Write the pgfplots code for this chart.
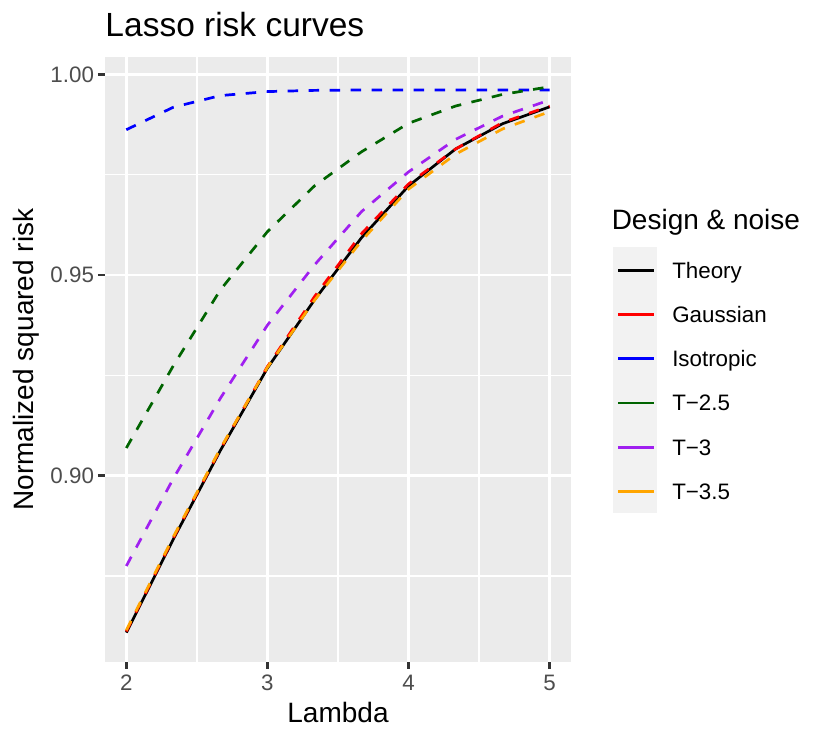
\documentclass[border=0pt]{standalone}
\usepackage{fontspec}
\setmainfont{Liberation Sans}
\usepackage{pgfplots}
\pgfplotsset{compat=1.18}
\usepackage{pgfplotstable}
\definecolor{panelbg}{HTML}{EBEBEB}
\definecolor{keybg}{HTML}{F2F2F2}
\definecolor{ticklab}{HTML}{4D4D4D}
\definecolor{tickcol}{HTML}{333333}
\definecolor{cgauss}{HTML}{FF0000}
\definecolor{ciso}{HTML}{0000FF}
\definecolor{ctvf}{HTML}{006400}
\definecolor{ctt}{HTML}{A020F0}
\definecolor{cttf}{HTML}{FFA500}

\pgfplotstableread{
lambda theory gauss iso tvf tt ttf
2.0000 0.8609 0.8612 0.9862 0.9069 0.8775 0.8615
2.3333 0.8842 0.8845 0.9918 0.9274 0.8993 0.8848
2.6667 0.9063 0.9066 0.9947 0.9463 0.9193 0.9068
3.0000 0.9268 0.9272 0.9957 0.9608 0.9375 0.9270
3.3333 0.9438 0.9446 0.9960 0.9722 0.9525 0.9437
3.6667 0.9593 0.9603 0.9961 0.9807 0.9658 0.9585
4.0000 0.9722 0.9727 0.9961 0.9878 0.9757 0.9714
4.3333 0.9814 0.9814 0.9961 0.9921 0.9838 0.9801
4.6667 0.9877 0.9880 0.9961 0.9950 0.9896 0.9864
5.0000 0.9919 0.9921 0.9961 0.9969 0.9936 0.9907
}\risk

\begin{document}
\begin{tikzpicture}
\path[use as bounding box] (-42pt,-32.52pt) rectangle (290pt,264.68pt);
\fill[keybg] (203.08pt,59.6pt) rectangle (220.68pt,165.76pt);
\node[anchor=base west, font=\fontsize{13.4}{16}\selectfont, inner sep=0pt] at (0pt,250pt) {Lasso risk curves};
\node[anchor=base west, font=\fontsize{11.2}{13}\selectfont, inner sep=0pt] at (202.5pt,172.7pt) {Design \& noise};
\begin{axis}[
  at={(0pt,0pt)}, anchor=south west,
  scale only axis, width=186.4pt, height=241.76pt,
  xmin=1.849, xmax=5.151, ymin=0.85366, ymax=1.00424,
  axis background/.style={fill=panelbg},
  axis line style={draw=none},
  tick align=outside, tick pos=left,
  major tick length=2.8pt, minor tick length=0pt,
  major tick style={tickcol, line width=1.05pt},
  xtick={2,3,4,5}, xticklabels={2,3,4,5},
  ytick={0.9,0.95,1}, yticklabels={0.90,0.95,1.00},
  minor xtick={2.5,3.5,4.5}, minor ytick={0.875,0.925,0.975},
  grid=both,
  major grid style={white, line width=1.05pt},
  minor grid style={white, line width=0.53pt},
  ticklabel style={font=\fontsize{8.94}{10}\selectfont, text=ticklab, inner sep=0pt},
  xticklabel style={anchor=base, yshift=-8.9pt},
  yticklabel style={anchor=east, xshift=-1.4pt},
  xlabel={Lambda}, ylabel={Normalized squared risk},
  label style={font=\fontsize{11.2}{13}\selectfont, inner sep=0pt},
  xlabel style={at={(axis description cs:0.5,-0.1009)}, anchor=base},
  ylabel style={at={(axis description cs:-0.154,0.5)}, anchor=base},
  legend image code/.code={\draw[#1,solid] (0pt,3.2pt) -- (14.24pt,3.2pt);},
  legend cell align=left,
  legend style={draw=none, fill=none, inner sep=0pt, outer sep=0pt,
    at={(axis description cs:1.0981,0.6611)}, anchor=north west,
    column sep=6.9pt, row sep=9.68pt,
    font=\fontsize{8.94}{10}\selectfont,
    nodes={inner sep=0pt, text height=6.5pt, text depth=1.5pt, anchor=base west}},
]
\addplot[black, line width=1.08pt] table[x=lambda,y=theory]{\risk};
\addlegendentry{Theory}
\addplot[cgauss, line width=1.08pt, dash pattern=on 4.2pt off 4.2pt] table[x=lambda,y=gauss]{\risk};
\addlegendentry{Gaussian}
\addplot[ciso, line width=1.08pt, dash pattern=on 4.2pt off 4.2pt] table[x=lambda,y=iso]{\risk};
\addlegendentry{Isotropic}
\addplot[ctvf, line width=1.08pt, dash pattern=on 4.2pt off 4.2pt] table[x=lambda,y=tvf]{\risk};
\addlegendentry{T−2.5}
\addplot[ctt, line width=1.08pt, dash pattern=on 4.2pt off 4.2pt] table[x=lambda,y=tt]{\risk};
\addlegendentry{T−3}
\addplot[cttf, line width=1.08pt, dash pattern=on 4.2pt off 4.2pt] table[x=lambda,y=ttf]{\risk};
\addlegendentry{T−3.5}
\end{axis}
\end{tikzpicture}
\end{document}
